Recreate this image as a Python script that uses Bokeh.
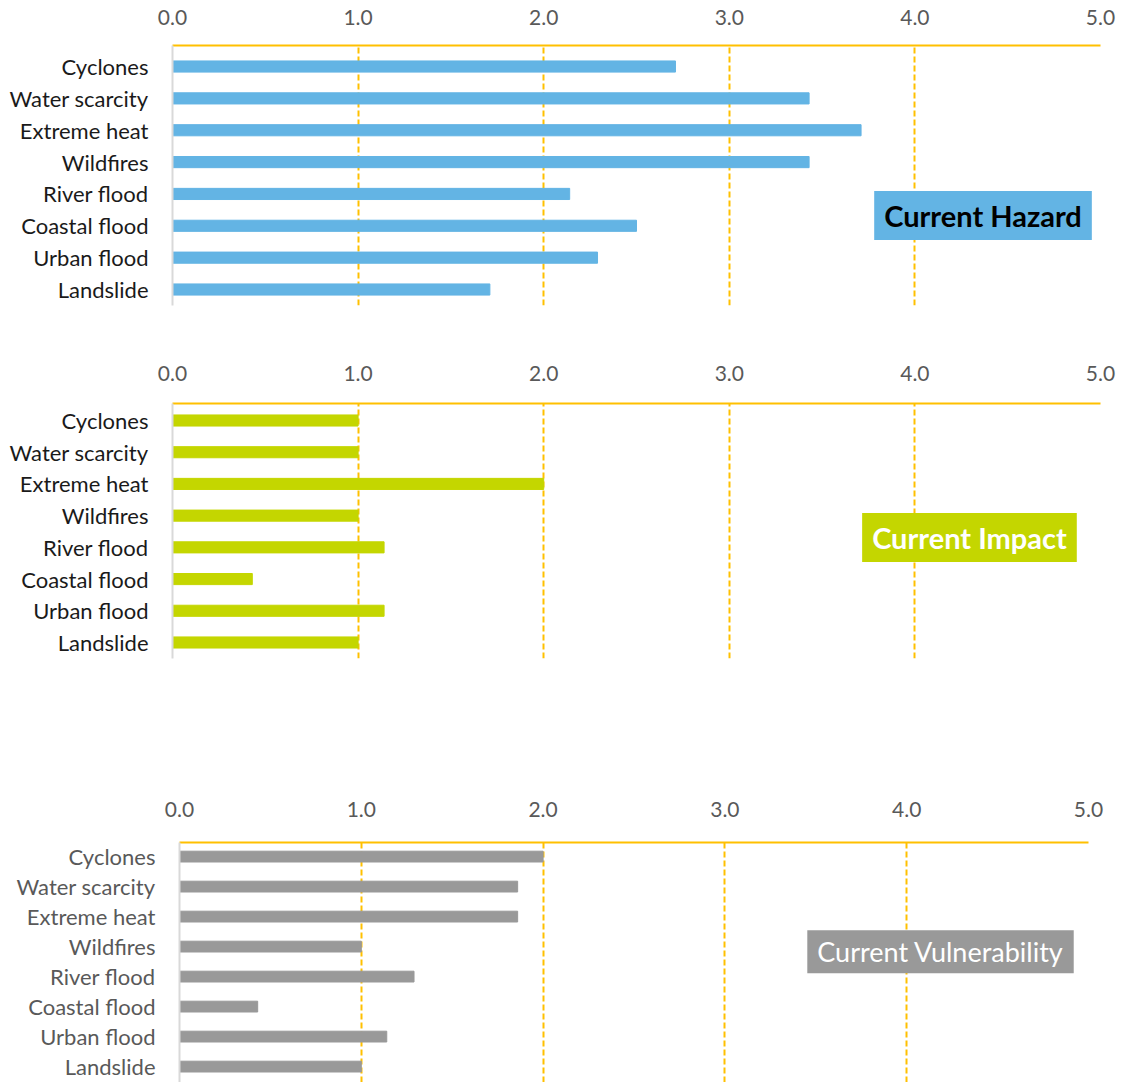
from bokeh.plotting import figure
from bokeh.models import Range1d, FixedTicker, NumeralTickFormatter, Label
from bokeh.embed import file_html
from bokeh.resources import INLINE

categories = ["Cyclones", "Water scarcity", "Extreme heat", "Wildfires",
              "River flood", "Coastal flood", "Urban flood", "Landslide"]
hazard = [2.71, 3.43, 3.71, 3.43, 2.14, 2.50, 2.29, 1.71]
impact = [1.00, 1.00, 2.00, 1.00, 1.14, 0.43, 1.14, 1.00]
vulnerability = [2.00, 1.86, 1.86, 1.00, 1.29, 0.43, 1.14, 1.00]
x_ticks = [0, 1, 2, 3, 4, 5]

FONT = "Lato"
GOLD = "#FFC000"

n = len(categories)
ypos = [n - 1 - i for i in range(n)]
overrides = {n - 1 - i: c for i, c in enumerate(categories)}


def panel(values, color, height, top, bottom, left, right, yr, bar_h,
          label_text, label_xy, label_color, label_bold, label_size, label_pad,
          cat_color, x_standoff):
    p = figure(width=1121, height=height, x_range=Range1d(0, 5), y_range=Range1d(*yr),
               x_axis_location="above", output_backend="svg", toolbar_location=None,
               min_border_top=top, min_border_bottom=bottom, min_border_left=left,
               min_border_right=right)
    p.outline_line_color = None
    p.background_fill_color = "white"
    p.border_fill_color = "white"
    p.hbar(y=ypos, right=values, left=0, height=bar_h, color=color)

    xa = p.xaxis[0]
    xa.ticker = FixedTicker(ticks=x_ticks)
    xa.formatter = NumeralTickFormatter(format="0.0")
    xa.major_tick_line_color = None
    xa.minor_tick_line_color = None
    xa.axis_line_color = GOLD
    xa.axis_line_width = 2
    xa.major_label_text_font = FONT
    xa.major_label_text_font_size = "21px"
    xa.major_label_text_color = "#595959"
    xa.major_label_standoff = x_standoff

    ya = p.yaxis[0]
    ya.ticker = FixedTicker(ticks=ypos)
    ya.major_label_overrides = overrides
    ya.major_tick_line_color = None
    ya.minor_tick_line_color = None
    ya.axis_line_color = "#D9D9D9"
    ya.axis_line_width = 2
    ya.major_label_text_font = FONT
    ya.major_label_text_font_size = "22px"
    ya.major_label_text_color = cat_color
    ya.major_label_standoff = 18

    p.ygrid.grid_line_color = None
    p.xgrid.ticker = FixedTicker(ticks=x_ticks[1:])
    p.xgrid.grid_line_color = GOLD
    p.xgrid.grid_line_dash = "6 3"
    p.xgrid.grid_line_width = 2

    lab = Label(x=label_xy[0], y=label_xy[1], text=label_text,
                text_font=FONT, text_font_size=label_size,
                text_font_style="bold" if label_bold else "normal",
                text_color=label_color, text_align="center", text_baseline="middle",
                background_fill_color=color, padding=label_pad)
    p.add_layout(lab)
    return p


p1 = panel(hazard, "#63B4E4", 340, 45, 35, 172, 21, (-0.502, 7.66), 0.35,
           "Current Hazard", (4.367, 2.32), "black", True, "29px", (10, 7),
           "#1A1A1A", 15)
p2 = panel(impact, "#C4D600", 420, 63, 102, 172, 21, (-0.505, 7.536), 0.35,
           "Current Impact", (4.294, 3.31), "white", True, "29px", (10, 7),
           "#1A1A1A", 17)
p3 = panel(vulnerability, "#999999", 322, 82, 0, 179, 33, (-0.53, 7.47), 0.36,
           "Current Vulnerability", (4.186, 3.83), "white", False, "27px", (10, 5),
           "#595959", 20)

open("out.html", "w").write(file_html([p1, p2, p3], INLINE))
